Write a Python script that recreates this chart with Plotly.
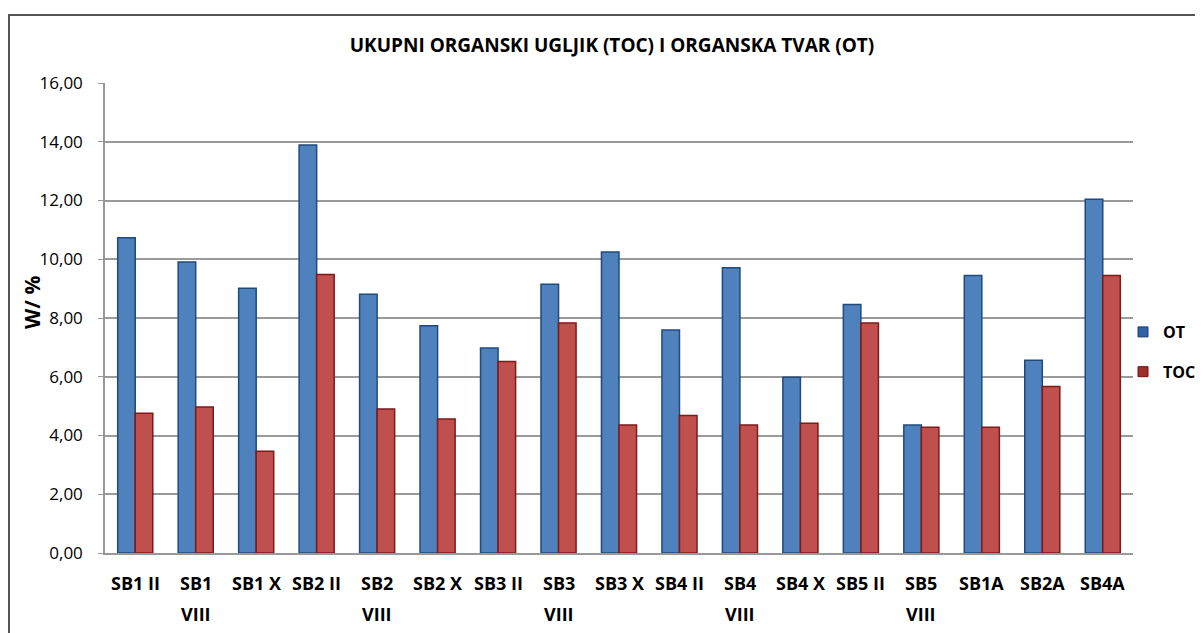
import plotly.graph_objects as go

categories = ["SB1 II", "SB1 VIII", "SB1 X", "SB2 II", "SB2 VIII", "SB2 X", "SB3 II",
              "SB3 VIII", "SB3 X", "SB4 II", "SB4 VIII", "SB4 X", "SB5 II",
              "SB5 VIII", "SB1A", "SB2A", "SB4A"]
label_line1 = ["SB1 II", "SB1", "SB1 X", "SB2 II", "SB2", "SB2 X", "SB3 II",
               "SB3", "SB3 X", "SB4 II", "SB4", "SB4 X", "SB5 II",
               "SB5", "SB1A", "SB2A", "SB4A"]
label_line2 = ["", "VIII", "", "", "VIII", "", "", "VIII", "", "", "VIII", "", "",
               "VIII", "", "", ""]
ot_values = [10.73, 9.91, 9.01, 13.89, 8.81, 7.74, 6.98, 9.15, 10.25, 7.59, 9.71, 5.98,
             8.46, 4.36, 9.45, 6.56, 12.04]
toc_values = [4.76, 4.97, 3.46, 9.48, 4.90, 4.56, 6.52, 7.83, 4.36, 4.68, 4.36, 4.42,
              7.83, 4.28, 4.28, 5.67, 9.45]
y_ticks = [0, 2, 4, 6, 8, 10, 12, 14, 16]

FONT = "Open Sans"
OFF = 8  # page body margin
# plot area in page pixels
PX0, PX1, PY0, PY1 = 105, 1133, 83, 553
W, H = 1203 - OFF, 633 - OFF
L, R, T, B = PX0 - OFF, W + OFF - PX1, PY0 - OFF, H + OFF - PY1
pw, ph = PX1 - PX0, PY1 - PY0


def px_x(x):
    return (x - PX0) / pw


def px_y(y):
    return (PY1 - y) / ph


fig = go.Figure()
fig.add_trace(go.Bar(
    name="OT", x=categories, y=ot_values, showlegend=False,
    marker=dict(color="#4F81BD", line=dict(color="#1F4A7E", width=1.5)),
))
fig.add_trace(go.Bar(
    name="TOC", x=categories, y=toc_values, showlegend=False,
    marker=dict(color="#C0504D", line=dict(color="#7E1A18", width=1.5)),
))
# legend entries (small squares as in the original)
fig.add_trace(go.Scatter(
    name="OT", x=[None], y=[None], mode="markers", legendgroup="a",
    marker=dict(symbol="square", size=10, color="#2F62A6", line=dict(color="#1B3C6E", width=1)),
))
fig.add_trace(go.Scatter(
    name="TOC", x=[None], y=[None], mode="markers", legendgroup="b",
    marker=dict(symbol="square", size=10, color="#A0302C", line=dict(color="#6A1210", width=1)),
))

annotations = [dict(
    text="<b>W/ %</b>", textangle=-90, xref="paper", yref="paper",
    x=px_x(32), y=px_y(303), xanchor="center", yanchor="middle",
    showarrow=False, font=dict(size=21, family=FONT, color="black"),
)]
for cat, l1, l2 in zip(categories, label_line1, label_line2):
    annotations.append(dict(text="<b>%s</b>" % l1, xref="x", yref="paper", x=cat,
                            y=px_y(583), xanchor="center", yanchor="middle", showarrow=False,
                            font=dict(size=18, family=FONT, color="black")))
    if l2:
        annotations.append(dict(text="<b>%s</b>" % l2, xref="x", yref="paper", x=cat,
                                y=px_y(614), xanchor="center", yanchor="middle", showarrow=False,
                                font=dict(size=18, family=FONT, color="black")))

fig.update_layout(
    width=W, height=H,
    margin=dict(l=L, r=R, t=T, b=B, autoexpand=False),
    paper_bgcolor="white", plot_bgcolor="white",
    barmode="group", bargap=0.42, bargroupgap=0,
    separators=",.",
    font=dict(family=FONT, color="black"),
    title=dict(text="<b>UKUPNI ORGANSKI UGLJIK (TOC) I ORGANSKA TVAR (OT)</b>",
               x=(612 - OFF) / W, xanchor="center", y=1 - (45 - OFF) / H, yanchor="middle",
               font=dict(size=19, family=FONT, color="black")),
    showlegend=True,
    legend=dict(x=px_x(1201), xanchor="right", y=px_y(352), yanchor="middle",
                font=dict(size=16, family=FONT, color="black", weight="bold"),
                tracegroupgap=16, itemwidth=30, bgcolor="rgba(0,0,0,0)"),
    xaxis=dict(
        showgrid=False, showline=True, linecolor="#999999", linewidth=1.5,
        ticks="", showticklabels=False,
    ),
    yaxis=dict(
        range=[0, 16], tickvals=y_ticks, tickformat=".2f",
        showgrid=True, gridcolor="#9a9a9a", gridwidth=1.5,
        showline=True, linecolor="#999999", linewidth=1.5,
        ticks="outside", ticklen=5, tickcolor="#999999",
        tickfont=dict(size=17, family=FONT, color="black"),
        ticklabelstandoff=12,
        zeroline=False,
    ),
    annotations=annotations,
    shapes=[
        dict(type="line", xref="paper", yref="paper",
             x0=px_x(8), x1=px_x(1215), y0=px_y(15), y1=px_y(15),
             line=dict(color="#555555", width=2)),
        dict(type="line", xref="paper", yref="paper",
             x0=px_x(9), x1=px_x(9), y0=px_y(15), y1=px_y(645),
             line=dict(color="#555555", width=2)),
    ],
)

fig.write_html("out.html")
